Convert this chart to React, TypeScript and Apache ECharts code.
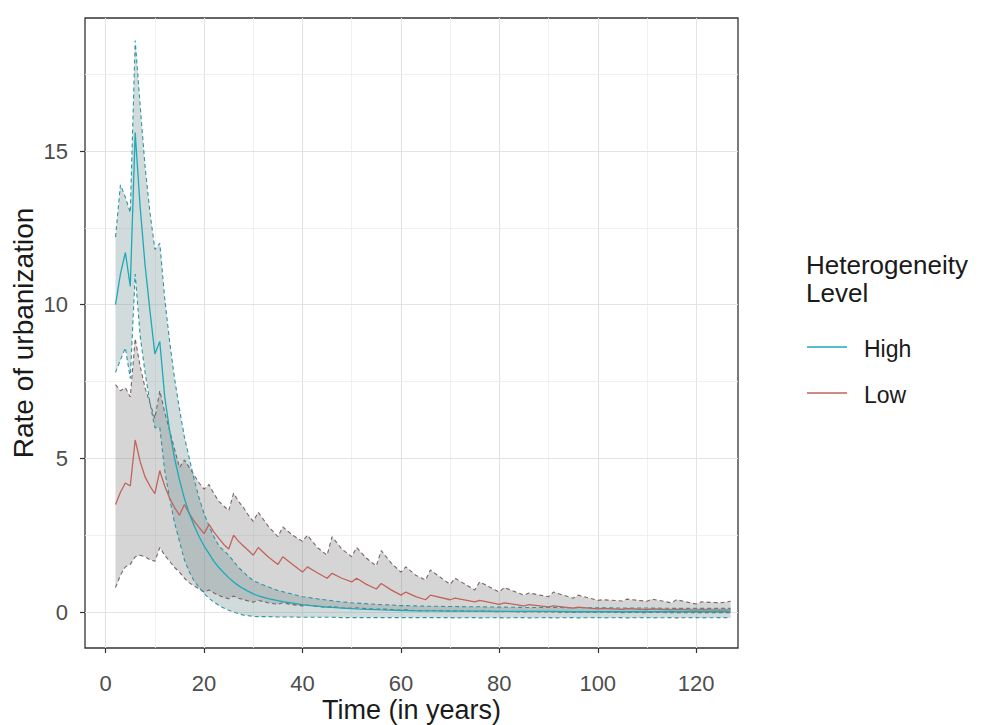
import React, { useEffect, useRef } from "react";
import * as echarts from "echarts";

// Time (years)
const times = [
  2, 3, 4, 5, 6, 7, 8, 9, 10, 11, 12, 13, 14, 15, 16, 17, 18, 19, 20, 21, 22, 23, 24, 25, 26, 27, 28, 29, 30,
  31, 33, 35, 36, 38, 40, 41, 43, 45, 46, 48, 50, 51, 53, 55, 56, 58, 60, 61, 63, 65,
  66, 70, 71, 75, 76, 80, 81, 85, 86, 90, 91, 95, 96, 100, 101, 105, 106, 110, 111, 115, 116, 120, 121, 125, 127,
];

// High heterogeneity
const hiMean = [
  10.0, 11.0, 11.7, 10.6, 15.6, 13.2, 11.3, 9.8, 8.4, 8.8, 7.0, 5.9, 5.0, 4.3, 3.7, 3.2, 2.8, 2.45, 2.15, 1.9, 1.65, 1.45, 1.28, 1.12, 0.98, 0.86, 0.76, 0.67, 0.59,
  0.53, 0.44, 0.37, 0.34, 0.29, 0.24, 0.22, 0.19, 0.16, 0.15, 0.13, 0.11, 0.1, 0.09, 0.08, 0.07, 0.06, 0.05, 0.05, 0.04, 0.04,
  0.04, 0.03, 0.03, 0.03, 0.03, 0.02, 0.02, 0.02, 0.02, 0.02, 0.02, 0.01, 0.01, 0.01, 0.01, 0.01, 0.01, 0.01, 0.01, 0.01, 0.01, 0.01, 0.01, 0.01, 0.01,
];
const hiUpper = [
  12.2, 13.9, 13.5, 13.0, 18.6, 16.5, 14.5, 13.0, 11.8, 12.0, 10.2, 8.8, 7.6, 6.6, 5.7, 5.0, 4.3, 3.7, 3.2, 2.8, 2.45, 2.15, 2.0, 1.85, 1.65, 1.45, 1.3, 1.15, 1.02,
  0.95, 0.82, 0.7, 0.66, 0.58, 0.5, 0.48, 0.43, 0.39, 0.37, 0.33, 0.3, 0.29, 0.27, 0.25, 0.24, 0.23, 0.21, 0.21, 0.2, 0.19,
  0.19, 0.18, 0.18, 0.17, 0.17, 0.16, 0.16, 0.15, 0.15, 0.15, 0.15, 0.14, 0.14, 0.14, 0.14, 0.13, 0.13, 0.13, 0.13, 0.12, 0.12, 0.12, 0.12, 0.12, 0.12,
];
const hiLower = [
  7.8, 8.2, 8.6, 7.6, 11.0, 9.0, 7.8, 6.8, 6.0, 6.0, 4.6, 3.7, 2.9, 2.3, 1.7, 1.3, 1.0, 0.8, 0.6, 0.45, 0.32, 0.22, 0.13, 0.06, 0.0, -0.05, -0.1, -0.12, -0.14,
  -0.15, -0.15, -0.16, -0.16, -0.16, -0.17, -0.17, -0.17, -0.17, -0.17, -0.18, -0.18, -0.18, -0.18, -0.18, -0.18, -0.18, -0.18, -0.18, -0.18, -0.18,
  -0.18, -0.18, -0.19, -0.18, -0.19, -0.18, -0.19, -0.18, -0.19, -0.18, -0.19, -0.18, -0.19, -0.18, -0.19, -0.18, -0.19, -0.18, -0.19, -0.18, -0.19, -0.18, -0.19, -0.18, -0.19,
];

// Low heterogeneity
const loMean = [
  3.5, 3.9, 4.2, 4.1, 5.6, 4.9, 4.4, 4.1, 3.85, 4.6, 4.1, 3.7, 3.4, 3.15, 3.5, 3.2, 2.95, 2.75, 2.55, 2.85, 2.6, 2.4, 2.2, 2.05, 2.5, 2.3, 2.15, 2.0, 1.85,
  2.1, 1.8, 1.55, 1.8, 1.55, 1.3, 1.47, 1.28, 1.1, 1.26, 1.1, 0.98, 1.1, 0.9, 0.75, 0.93, 0.72, 0.55, 0.65, 0.5, 0.4,
  0.55, 0.4, 0.45, 0.33, 0.38, 0.25, 0.3, 0.2, 0.24, 0.17, 0.2, 0.13, 0.16, 0.1, 0.12, 0.09, 0.11, 0.08, 0.1, 0.07, 0.09, 0.06, 0.08, 0.06, 0.07,
];
const loUpper = [
  7.4, 7.2, 7.3, 7.0, 8.9, 8.0, 7.3, 6.8, 6.3, 7.2, 6.5, 5.9, 5.3, 4.7, 4.95, 4.7, 4.45, 4.2, 4.0, 4.15, 3.85, 3.6, 3.45, 3.3, 3.87, 3.6, 3.4, 3.15, 2.95,
  3.25, 2.8, 2.45, 2.77, 2.5, 2.3, 2.5, 2.1, 1.85, 2.45, 2.05, 1.8, 2.1, 1.75, 1.5, 2.0, 1.6, 1.3, 1.47, 1.2, 1.04,
  1.37, 0.9, 1.1, 0.72, 0.98, 0.65, 0.8, 0.55, 0.62, 0.5, 0.65, 0.45, 0.55, 0.38, 0.4, 0.36, 0.42, 0.35, 0.42, 0.3, 0.4, 0.26, 0.33, 0.3, 0.35,
];
const loLower = [
  0.8, 1.2, 1.47, 1.55, 1.8, 1.85, 1.8, 1.7, 1.65, 2.1, 1.85, 1.65, 1.45, 1.3, 1.1, 0.95, 0.85, 0.75, 0.65, 0.72, 0.62, 0.54, 0.48, 0.43, 0.52, 0.45, 0.4, 0.36, 0.32,
  0.38, 0.3, 0.25, 0.3, 0.24, 0.2, 0.23, 0.18, 0.15, 0.18, 0.14, 0.12, 0.14, 0.11, 0.09, 0.1, 0.08, 0.06, 0.07, 0.05, 0.04,
  0.05, 0.03, 0.04, 0.02, 0.03, 0.01, 0.02, 0.0, 0.01, 0.0, 0.0, -0.01, 0.0, -0.01, 0.0, -0.02, -0.01, -0.02, -0.01, -0.02, -0.02, -0.02, -0.02, -0.02, -0.02,
];

const xTicks = [0, 20, 40, 60, 80, 100, 120];
const xMinor = [10, 30, 50, 70, 90, 110];
const yTicks = [0, 5, 10, 15];
const yMinor = [2.5, 7.5, 12.5, 17.5];

const legendTitle = "Heterogeneity\nLevel";
const groups = ["High", "Low"];

const FONT = "'Liberation Sans', Arial, sans-serif";
const HI = "#1BAAB8";
const LO = "#C0645C";
const HI_DASH = "#2A97A3";
const LO_DASH = "#7A6664";

const pairs = (arr: number[]) => times.map((t, i) => [t, arr[i]]);

function band(name: string, lower: number[], upper: number[], fill: string) {
  return {
    type: "custom",
    name: name + "-band",
    silent: true,
    clip: true,
    z: 2,
    data: times.map((t, i) => [t, lower[i], upper[i]]),
    encode: { x: 0, y: [1, 2] },
    renderItem: (params: any, api: any) => {
      if (params.dataIndex !== 0) return null;
      const top = times.map((t, i) => api.coord([t, upper[i]]));
      const bottom = times.map((t, i) => api.coord([t, lower[i]])).reverse();
      return {
        type: "polygon",
        shape: { points: top.concat(bottom) },
        style: { fill, stroke: "none" },
      };
    },
  };
}

function dashed(name: string, arr: number[], color: string) {
  return {
    type: "line",
    name,
    data: pairs(arr),
    symbol: "none",
    silent: true,
    lineStyle: { color, width: 1.1, type: [4, 3] },
    z: 3,
  };
}

export default function App() {
  const ref = useRef<HTMLDivElement>(null);
  useEffect(() => {
    const chart = echarts.init(ref.current!, null, { renderer: "svg" });
    const gridLines = [
      ...xTicks.map((v) => ({ xAxis: v, lineStyle: { color: "#E3E3E3", width: 1.1, type: "solid" } })),
      ...xMinor.map((v) => ({ xAxis: v, lineStyle: { color: "#ECECEC", width: 0.8, type: "solid" } })),
      ...yTicks.map((v) => ({ yAxis: v, lineStyle: { color: "#E3E3E3", width: 1.1, type: "solid" } })),
      ...yMinor.map((v) => ({ yAxis: v, lineStyle: { color: "#ECECEC", width: 0.8, type: "solid" } })),
    ];
    const option: any = {
      animation: false,
      backgroundColor: "#ffffff",
      textStyle: { fontFamily: FONT },
      grid: {
        left: 85,
        top: 18,
        width: 653,
        height: 630,
        containLabel: false,
        outerBoundsMode: "none",
        show: true,
        borderColor: "#333333",
        borderWidth: 1.3,
        backgroundColor: "#ffffff",
      },
      xAxis: {
        type: "value",
        min: -4.2,
        max: 128.5,
        axisLine: { show: false, onZero: false },
        axisTick: { show: true, customValues: xTicks, length: 5, lineStyle: { color: "#333333", width: 1.2 } },
        axisLabel: { customValues: xTicks, fontSize: 22, color: "#4D4D4D", margin: 24, fontFamily: FONT },
        splitLine: { show: false },
        name: "Time (in years)",
        nameLocation: "middle",
        nameGap: 48,
        nameMoveOverlap: false,
        nameTextStyle: { fontSize: 27, color: "#1A1A1A", fontFamily: FONT },
      },
      yAxis: {
        type: "value",
        min: -1.17,
        max: 19.33,
        axisLine: { show: false, onZero: false },
        axisTick: { show: true, customValues: yTicks, length: 5, lineStyle: { color: "#333333", width: 1.2 } },
        axisLabel: { customValues: yTicks, fontSize: 22, color: "#4D4D4D", margin: 17, fontFamily: FONT },
        splitLine: { show: false },
        name: "Rate of urbanization",
        nameLocation: "middle",
        nameGap: 48,
        nameRotate: 90,
        nameMoveOverlap: false,
        nameTextStyle: { fontSize: 28, color: "#1A1A1A", fontFamily: FONT },
      },
      series: [
        {
          type: "line",
          name: "gridlines",
          data: [],
          silent: true,
          markLine: { silent: true, symbol: "none", label: { show: false }, z: 1, data: gridLines },
          z: 1,
        },
        band("Low", loLower, loUpper, "rgba(132,126,126,0.33)"),
        band("High", hiLower, hiUpper, "rgba(118,146,150,0.33)"),
        dashed("Low-upper", loUpper, LO_DASH),
        dashed("Low-lower", loLower, LO_DASH),
        dashed("High-upper", hiUpper, HI_DASH),
        dashed("High-lower", hiLower, HI_DASH),
        {
          type: "line",
          name: groups[1],
          data: pairs(loMean),
          symbol: "none",
          lineStyle: { color: LO, width: 1.3 },
          z: 4,
        },
        {
          type: "line",
          name: groups[0],
          data: pairs(hiMean),
          symbol: "none",
          lineStyle: { color: HI, width: 1.3 },
          z: 4,
        },
      ],
      graphic: [
        {
          type: "text",
          left: 806,
          top: 251,
          style: { text: legendTitle, fontSize: 26, lineHeight: 28, fill: "#1A1A1A", fontFamily: FONT },
        },
        { type: "line", shape: { x1: 807, y1: 347, x2: 847, y2: 347 }, style: { stroke: HI, lineWidth: 1.6 } },
        {
          type: "text",
          style: { x: 864, y: 349, text: groups[0], fontSize: 23, fill: "#1A1A1A", verticalAlign: "middle", fontFamily: FONT },
        },
        { type: "line", shape: { x1: 807, y1: 393, x2: 847, y2: 393 }, style: { stroke: LO, lineWidth: 1.6 } },
        {
          type: "text",
          style: { x: 864, y: 395, text: groups[1], fontSize: 23, fill: "#1A1A1A", verticalAlign: "middle", fontFamily: FONT },
        },
      ],
    };
    chart.setOption(option);
    return () => chart.dispose();
  }, []);
  return <div ref={ref} style={{ position: "absolute", left: 0, top: 0, width: 984, height: 725 }} />;
}
